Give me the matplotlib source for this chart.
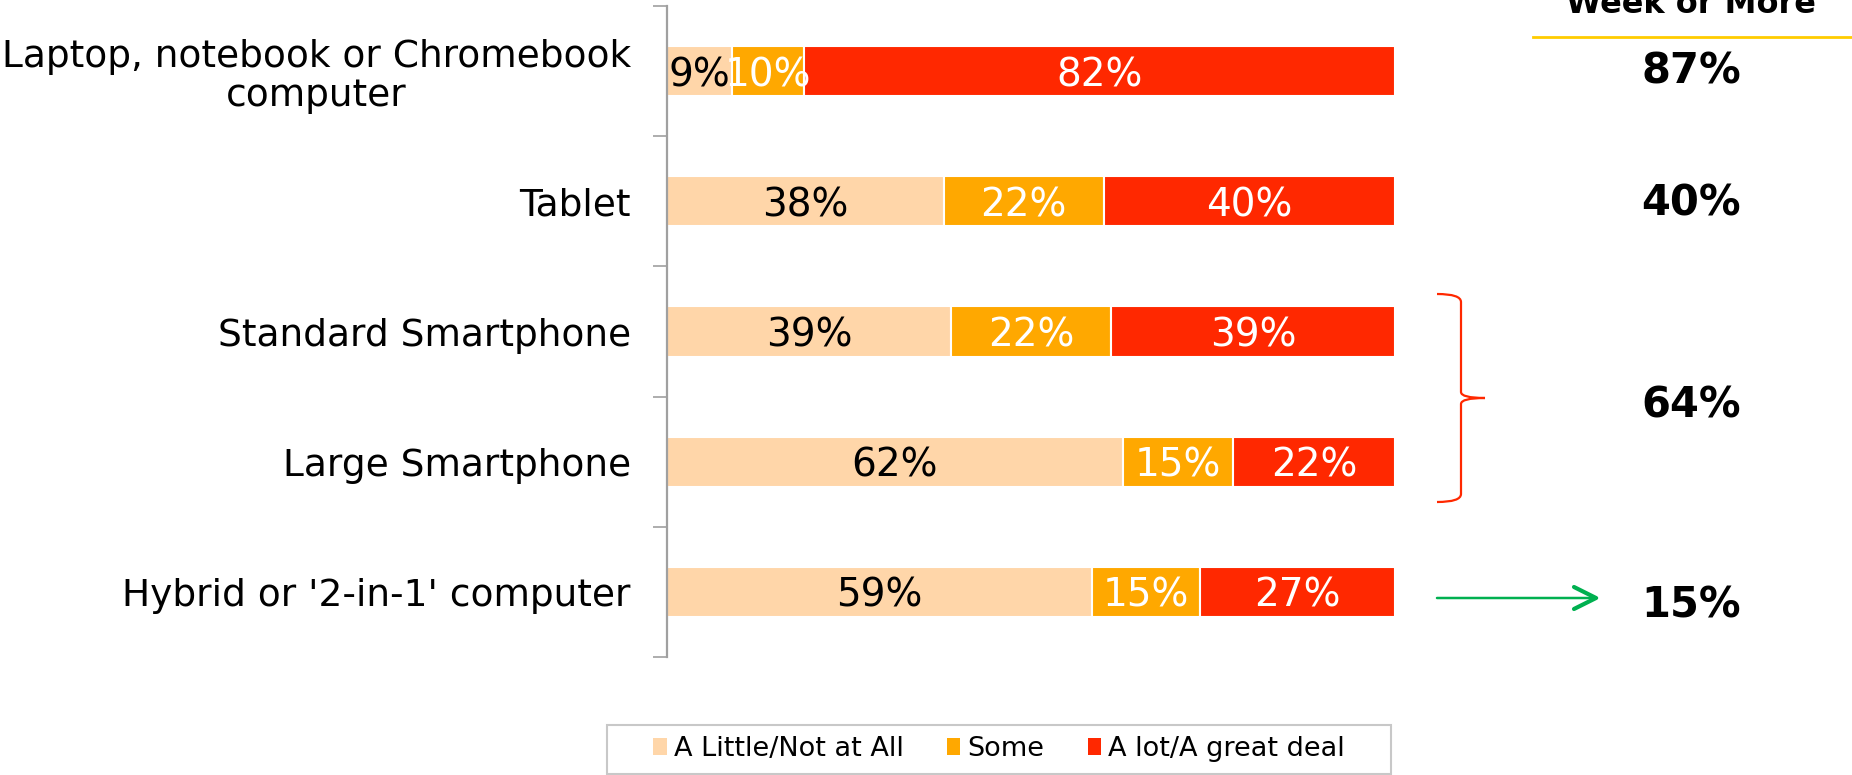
import matplotlib
matplotlib.use("Agg")
import matplotlib.pyplot as plt
from matplotlib.patches import Patch, Rectangle, PathPatch
from matplotlib.path import Path
import numpy as np

categories = ["Laptop, notebook or Chromebook\ncomputer", "Tablet",
              "Standard Smartphone", "Large Smartphone",
              "Hybrid or '2-in-1' computer"]
little = [9, 38, 39, 62, 59]
some = [10, 22, 22, 15, 15]
alot = [82, 40, 39, 22, 27]
series_names = ["A Little/Not at All", "Some", "A lot/A great deal"]
week_header = "Week or More"
week_values = ["87%", "40%", "64%", "15%"]

colors = ["#FFD6A9", "#FFA800", "#FF2800"]
text_colors = ["black", "white", "white"]

W, H = 1852, 775
fig = plt.figure(figsize=(W / 100, H / 100), dpi=100)
plt.rcParams['font.family'] = ['DejaVu Sans']

ax = fig.add_axes([667 / W, 1 - 657 / H, (1395 - 667) / W, (657 - 6) / H])

y = np.arange(len(categories))
vals = np.array([little, some, alot], dtype=float)
totals = vals.sum(axis=0)
norm = vals / totals * 100
left = np.zeros(len(categories))
for i in range(3):
    ax.barh(y, norm[i], left=left, height=0.385, color=colors[i],
            edgecolor="white", linewidth=1.5)
    for j in range(len(categories)):
        ax.text(left[j] + norm[i][j] / 2, y[j], f"{int(vals[i][j])}%",
                ha="center", va="center_baseline", fontsize=28,
                color=text_colors[i])
    left += norm[i]

ax.set_xlim(0, 100)
ax.set_ylim(len(categories) - 0.5, -0.5)
ax.set_xticks([])
for s in ["top", "right", "bottom"]:
    ax.spines[s].set_visible(False)
ax.spines["left"].set_color("#A0A0A0")
ax.spines["left"].set_linewidth(1.6)
ax.set_yticks(np.arange(-0.5, len(categories), 1.0))
ax.set_yticklabels([])
ax.tick_params(axis="y", which="major", length=10, width=1.2, color="#A0A0A0")
ax.set_yticks(y, categories, minor=True)
ax.tick_params(axis="y", which="minor", length=0, pad=26, labelsize=27)
for lab in ax.get_yticklabels(minor=True):
    lab.set_multialignment("center")
    lab.set_linespacing(1.1)

# overlay in pixel coordinates
ov = fig.add_axes([0, 0, 1, 1], facecolor="none")
ov.set_xlim(0, W)
ov.set_ylim(H, 0)
ov.axis("off")

ov.plot([1533, W], [37, 37], color="#FFCC00", lw=2)
ov.text(1691, 13, week_header, ha="center", va="baseline",
        fontsize=23, fontweight="bold")
for txt, yy in zip(week_values, [71, 203, 405, 606]):
    ov.text(1691, yy, txt, ha="center", va="center", fontsize=30,
            fontweight="bold")

# brace
verts = [(1437, 294), (1461, 294), (1461, 302),
         (1461, 392),
         (1461, 398), (1485, 398),
         (1461, 398), (1461, 404),
         (1461, 494),
         (1461, 502), (1437, 502)]
codes = [Path.MOVETO, Path.CURVE3, Path.CURVE3,
         Path.LINETO,
         Path.CURVE3, Path.CURVE3,
         Path.CURVE3, Path.CURVE3,
         Path.LINETO,
         Path.CURVE3, Path.CURVE3]
ov.add_patch(PathPatch(Path(verts, codes), fill=False, edgecolor="#FF2800", lw=1.6))

# arrow
ov.annotate("", xy=(1597, 598), xytext=(1437, 598),
            arrowprops=dict(arrowstyle="-", color="#00B050", lw=1.8,
                            shrinkA=0, shrinkB=0))
ov.plot([1574, 1596, 1574], [587, 598, 609], color="#00B050", lw=3,
        solid_capstyle="round", solid_joinstyle="round")

# legend
ov.add_patch(Rectangle((607, 725), 784, 49, fill=False, edgecolor="#C8C8C8", lw=1.5))
handles = [Patch(facecolor=c, edgecolor="none") for c in colors]
fig.legend(handles, series_names, loc="center",
           bbox_to_anchor=(999 / W, 1 - 749 / H), ncol=3, frameon=False,
           fontsize=19.5, handlelength=0.5, handleheight=0.55,
           handletextpad=0.25, columnspacing=1.6)

fig.savefig("out.png", dpi=100)
